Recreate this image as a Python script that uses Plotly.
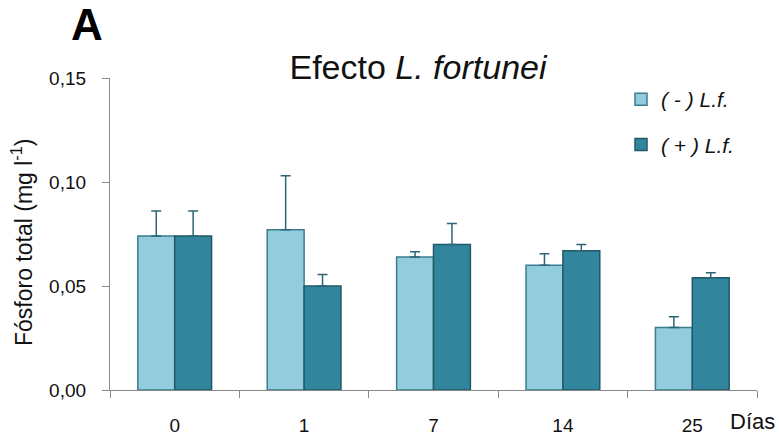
import plotly.graph_objects as go

dias = ["0", "1", "7", "14", "25"]
sin_lf = [0.074, 0.077, 0.064, 0.060, 0.030]
sin_lf_err = [0.012, 0.026, 0.0025, 0.0055, 0.0052]
con_lf = [0.074, 0.050, 0.070, 0.067, 0.054]
con_lf_err = [0.012, 0.0055, 0.010, 0.003, 0.0024]

FONT = "Liberation Sans, Arial, sans-serif"
AXIS = "#898989"
W, H = 779, 439
L, R, T, B = 110, 22, 78, 49
pw, ph = W - L - R, H - T - B


def px_x(v):
    return (v - L) / pw


def px_y(v):
    return 1 - (v - T) / ph


fig = go.Figure()
fig.add_trace(go.Bar(
    x=dias, y=sin_lf, name="<i>( - ) L.f.</i>", legendgroup="a",
    marker=dict(color="#93CDDD", line=dict(color="#3a7d90", width=1.5)),
    error_y=dict(type="data", symmetric=False, array=sin_lf_err,
                 arrayminus=[0] * len(sin_lf), color="#2b6677", thickness=1.5, width=5),
))
fig.add_trace(go.Bar(
    x=dias, y=con_lf, name="<i>( + ) L.f.</i>", legendgroup="b",
    marker=dict(color="#31859C", line=dict(color="#215968", width=1.5)),
    error_y=dict(type="data", symmetric=False, array=con_lf_err,
                 arrayminus=[0] * len(con_lf), color="#2b6677", thickness=1.5, width=5),
))

fig.update_layout(
    width=W, height=H,
    margin=dict(l=L, r=R, t=T, b=B),
    paper_bgcolor="white", plot_bgcolor="white",
    font=dict(family=FONT, color="#111111"),
    separators=",.",
    barmode="group", bargap=0.43, bargroupgap=0,
    title=dict(text="Efecto <i>L. fortunei</i>", font=dict(size=34, family=FONT, color="#111111"),
               x=418 / W, xref="container", xanchor="center",
               y=1 - 67 / H, yref="container", yanchor="middle"),
    legend=dict(x=px_x(621), xanchor="left", y=px_y(79), yanchor="top",
                traceorder="grouped", tracegroupgap=15,
                font=dict(size=21, family=FONT, color="#111111"),
                bgcolor="rgba(0,0,0,0)", itemwidth=30),
    showlegend=True,
    xaxis=dict(type="category", showline=True, linecolor=AXIS, linewidth=1.2,
               ticks="outside", tickson="boundaries", ticklen=7, tickcolor=AXIS, tickwidth=1.2,
               tickfont=dict(size=19, family=FONT, color="#111111"),
               ticklabelstandoff=18, showgrid=False, zeroline=False, automargin=False),
    yaxis=dict(range=[0, 0.15], dtick=0.05, tickformat=".2f", showline=True,
               linecolor=AXIS, linewidth=1.2, ticks="outside", ticklen=7,
               tickcolor=AXIS, tickwidth=1.2,
               tickfont=dict(size=19, family=FONT, color="#111111"),
               ticklabelstandoff=12, showgrid=False, zeroline=False, automargin=False),
    annotations=[
        dict(text="<b>A</b>", x=px_x(87), y=px_y(25), xref="paper", yref="paper",
             xanchor="center", yanchor="middle", showarrow=False,
             font=dict(size=44, family=FONT, color="#000000")),
        dict(text="Fósforo total (mg l<sup>-1</sup>)", textangle=-90,
             x=px_x(22), y=px_y(243), xref="paper", yref="paper", showarrow=False,
             xanchor="center", yanchor="middle",
             font=dict(size=23, family=FONT, color="#111111")),
        dict(text="Días", x=px_x(752), y=px_y(421), xref="paper", yref="paper",
             showarrow=False, xanchor="center", yanchor="middle",
             font=dict(size=22, family=FONT, color="#111111")),
    ],
)

fig.write_html("out.html")
